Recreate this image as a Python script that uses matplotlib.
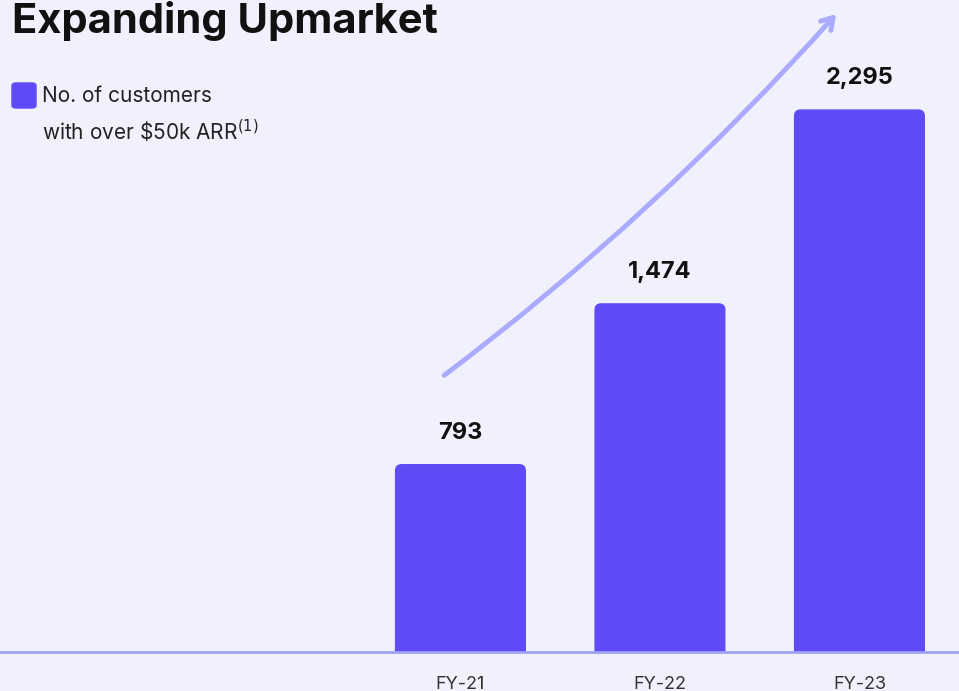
import matplotlib
matplotlib.use('Agg')
import matplotlib.pyplot as plt
from matplotlib.patches import FancyArrowPatch, FancyBboxPatch

years = ['FY-21', 'FY-22', 'FY-23']
customers = [793, 1474, 2295]

bg = '#f0f1fd'
bar_color = '#5f4bf5'
light = '#aaaaff'

plt.rcParams['font.family'] = ['Inter', 'DejaVu Sans']

fig = plt.figure(figsize=(9.59, 6.91), dpi=100, facecolor=bg)
ax = fig.add_axes([0, 39 / 691, 1, 652 / 691])
ax.set_facecolor(bg)

x = list(range(len(years)))
bars = ax.bar(x, customers, width=0.65, color=bar_color, zorder=3)
ax.set_xlim(-2.308, 2.499)
ax.set_ylim(0, 2761)

# round the top corners a little (same extent as the bars)
for b in bars:
    b.set_visible(False)
    rb = FancyBboxPatch((b.get_x(), -200), b.get_width(), b.get_height() + 200,
                        boxstyle='round,pad=0,rounding_size=0.03',
                        mutation_aspect=845, color=bar_color, zorder=3)
    ax.add_patch(rb)

# value labels
for b, v in zip(bars, customers):
    ax.annotate(f'{v:,}', (b.get_x() + b.get_width() / 2, v), xytext=(0, 15),
                textcoords='offset points', ha='center', va='bottom',
                fontsize=17, fontweight='bold', color='#111111')

# baseline
ax.axhline(0, color='#9fa3f5', lw=2, zorder=4, clip_on=False)
for s in ax.spines.values():
    s.set_visible(False)
ax.set_yticks([])
ax.set_xticks(x)
ax.set_xticklabels(years, fontsize=13, color='#333333')
ax.tick_params(axis='x', length=0, pad=17)

# title
fig.text(12 / 959, 1 - 33 / 691, 'Expanding Upmarket', fontsize=30, fontweight='bold',
         color='#111111', va='baseline', ha='left')

# legend
fig.patches.append(FancyBboxPatch((12 / 959, 1 - 108 / 691), 24 / 959, 25 / 691,
                                  boxstyle='round,pad=0,rounding_size=0.004',
                                  transform=fig.transFigure, color=bar_color))
fig.text(42 / 959, 1 - 96 / 691, 'No. of customers', fontsize=15, color='#222222',
         va='center', ha='left')
fig.text(42 / 959, 1 - 131 / 691, r'with over \$50k ARR$^{(1)}$', fontsize=15,
         color='#222222', va='center', ha='left')

# growth arrow
arrow = FancyArrowPatch((442 / 959, 1 - 377 / 691), (838 / 959, 1 - 12 / 691),
                        transform=fig.transFigure, connectionstyle='arc3,rad=0.05',
                        arrowstyle='->,head_length=8,head_width=5', color=light,
                        lw=3.5, zorder=5)
fig.patches.append(arrow)

fig.savefig('out.png', dpi=100, facecolor=bg)
